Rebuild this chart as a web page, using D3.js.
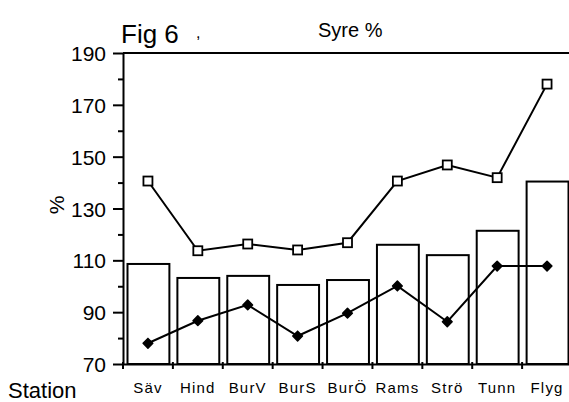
<!DOCTYPE html>
<html>
<head>
<meta charset="utf-8">
<script src="https://cdn.jsdelivr.net/npm/d3@7/dist/d3.min.js"></script>
<style>
  body { margin: 0; background: #fff; }
  svg { font-family: "Liberation Sans", Arial, sans-serif; }
</style>
</head>
<body>
<div id="chart"></div>
<script>
// stations along the bottom
var stations = ["Säv", "Hind", "BurV", "BurS", "BurÖ", "Rams", "Strö", "Tunn", "Flyg"];
// bar values
var barValues = [108.6, 103.2, 104, 100.5, 102.4, 116, 112, 121.4, 140.4];
// open squares
var openValues = [140.6, 113.7, 116.3, 114, 116.8, 140.6, 146.8, 141.9, 178];
// filled diamonds
var filledValues = [78, 86.7, 92.8, 80.8, 89.6, 100.1, 86.3, 107.8, 107.8];
var majorTicks = [70, 90, 110, 130, 150, 170, 190];
var minorTicks = [80, 100, 120, 140, 160, 180];

var width = 569, height = 402;

var svg = d3.select("#chart")
    .append("svg")
    .attr("width", width)
    .attr("height", height);

var x = d3.scaleBand()
    .domain(stations)
    .range([123, 572]);

var y = d3.scaleLinear()
    .domain([70, 190])
    .range([364, 53]);

// bars
svg.selectAll(".bar")
    .data(barValues)
    .enter()
    .append("rect")
    .attr("class", "bar")
    .attr("x", function(d, i) { return x(stations[i]) + 4.5; })
    .attr("width", x.bandwidth() - 8)
    .attr("y", function(d) { return y(d); })
    .attr("height", function(d) { return y(70) - y(d); })
    .attr("fill", "#fff")
    .attr("stroke", "#000")
    .attr("stroke-width", 2);

// axes
var yAxis = svg.append("g")
    .attr("transform", "translate(123,0)")
    .call(d3.axisLeft(y).tickValues(majorTicks).tickSize(10).tickSizeOuter(0).tickPadding(7));
yAxis.selectAll("text")
    .attr("font-size", "21px")
    .attr("font-family", "'Liberation Sans', Arial, sans-serif")
    .attr("dy", "0.36em");

var yMinor = svg.append("g")
    .attr("transform", "translate(123,0)")
    .call(d3.axisLeft(y).tickValues(minorTicks).tickSize(5).tickSizeOuter(0).tickFormat(""));
yMinor.select(".domain").remove();

var xAxis = svg.append("g")
    .attr("transform", "translate(0," + y(70) + ")")
    .call(d3.axisBottom(x).tickSize(0).tickSizeOuter(0).tickPadding(18));
xAxis.selectAll("text")
    .attr("font-size", "15px")
    .attr("letter-spacing", "1.2px")
    .attr("font-family", "'Liberation Sans', Arial, sans-serif");

// small ticks at category borders
xAxis.selectAll(".border")
    .data(stations)
    .enter()
    .append("line")
    .attr("class", "border")
    .attr("x1", function(d) { return x(d); })
    .attr("x2", function(d) { return x(d); })
    .attr("y1", -2)
    .attr("y2", 5)
    .attr("stroke", "#000")
    .attr("stroke-width", 2);

svg.selectAll(".domain, .tick line")
    .attr("stroke", "#000")
    .attr("stroke-width", 2);

// top frame line at 190
svg.append("line")
    .attr("x1", 123)
    .attr("x2", width)
    .attr("y1", y(190))
    .attr("y2", y(190))
    .attr("stroke", "#000")
    .attr("stroke-width", 2);

// lines
var line = d3.line()
    .x(function(d, i) { return x(stations[i]) + x.bandwidth() / 2; })
    .y(function(d) { return y(d); });

svg.append("path")
    .datum(openValues)
    .attr("d", line)
    .attr("fill", "none")
    .attr("stroke", "#000")
    .attr("stroke-width", 2);

svg.append("path")
    .datum(filledValues)
    .attr("d", line)
    .attr("fill", "none")
    .attr("stroke", "#000")
    .attr("stroke-width", 2);

svg.selectAll(".sq")
    .data(openValues)
    .enter()
    .append("rect")
    .attr("class", "sq")
    .attr("x", function(d, i) { return x(stations[i]) + x.bandwidth() / 2 - 4.5; })
    .attr("y", function(d) { return y(d) - 4.5; })
    .attr("width", 9)
    .attr("height", 9)
    .attr("fill", "#fff")
    .attr("stroke", "#000")
    .attr("stroke-width", 1.8);

svg.selectAll(".dia")
    .data(filledValues)
    .enter()
    .append("path")
    .attr("class", "dia")
    .attr("d", d3.symbol().type(d3.symbolDiamond2).size(60))
    .attr("transform", function(d, i) {
        return "translate(" + (x(stations[i]) + x.bandwidth() / 2) + "," + y(d) + ")";
    })
    .attr("fill", "#000")
    .attr("stroke", "#000")
    .attr("stroke-width", 1.5)
    .attr("stroke-linejoin", "round");

// texts
svg.append("text")
    .attr("x", 121)
    .attr("y", 43)
    .attr("font-size", "26px")
    .text("Fig 6");

svg.append("text")
    .attr("x", 196)
    .attr("y", 38)
    .attr("font-size", "16px")
    .text(",");

svg.append("text")
    .attr("x", 318)
    .attr("y", 37)
    .attr("font-size", "20px")
    .text("Syre %");

svg.append("text")
    .attr("transform", "translate(64,205) rotate(-90)")
    .attr("text-anchor", "middle")
    .attr("font-size", "21px")
    .text("%");

svg.append("text")
    .attr("x", 8)
    .attr("y", 398)
    .attr("font-size", "22px")
    .text("Station");
</script>
</body>
</html>
